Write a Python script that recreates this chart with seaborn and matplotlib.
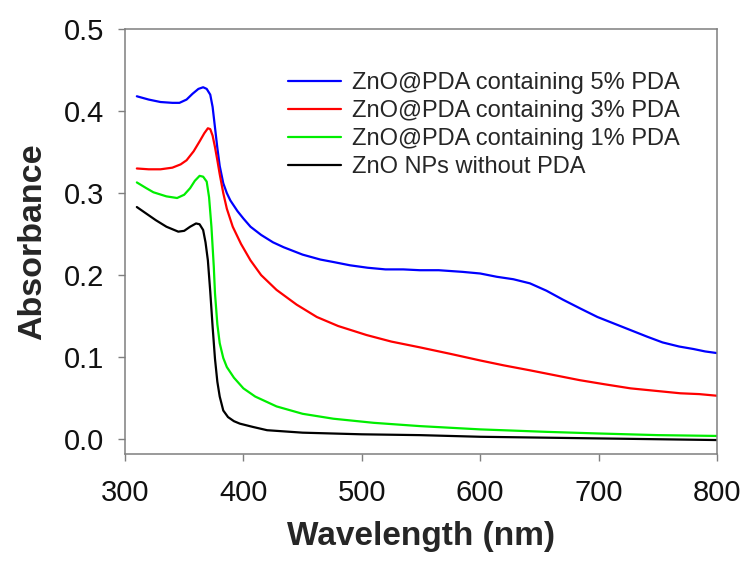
import numpy as np
import pandas as pd
import matplotlib
matplotlib.use("Agg")
import matplotlib.pyplot as plt
import seaborn as sns

# ---- data ----
wl_5 = [310, 320, 330, 340, 346, 352, 357, 362, 366, 369, 372, 374, 376, 378, 380,
        383, 386, 389, 395, 400, 406, 415, 425, 434, 450, 465, 476, 490, 505, 520,
        535, 549, 565, 585, 600, 614, 628, 642, 656, 670, 685, 699, 713, 727, 741,
        754, 768, 780, 790, 800]
abs_5 = [0.418, 0.414, 0.411, 0.410, 0.410, 0.414, 0.421, 0.427, 0.429, 0.427, 0.420,
         0.405, 0.380, 0.355, 0.333, 0.312, 0.300, 0.291, 0.278, 0.269, 0.259, 0.249,
         0.240, 0.234, 0.225, 0.219, 0.216, 0.212, 0.209, 0.207, 0.207, 0.206, 0.206,
         0.204, 0.202, 0.198, 0.195, 0.190, 0.181, 0.170, 0.159, 0.149, 0.141, 0.133,
         0.125, 0.118, 0.113, 0.110, 0.107, 0.105]

wl_3 = [310, 320, 330, 340, 347, 352, 358, 363, 367, 370, 372, 374, 376, 378, 380,
        383, 386, 391, 398, 406, 415, 428, 445, 462, 480, 504, 525, 549, 575, 600,
        620, 642, 663, 684, 705, 727, 748, 769, 785, 800]
abs_3 = [0.330, 0.329, 0.329, 0.331, 0.335, 0.340, 0.351, 0.363, 0.373, 0.379, 0.378,
         0.370, 0.356, 0.340, 0.323, 0.300, 0.281, 0.259, 0.238, 0.218, 0.200, 0.182,
         0.164, 0.149, 0.138, 0.127, 0.119, 0.112, 0.104, 0.096, 0.090, 0.084, 0.078,
         0.072, 0.067, 0.062, 0.059, 0.056, 0.055, 0.053]

wl_1 = [310, 318, 324, 335, 344, 350, 355, 359, 363, 366, 369, 371, 373, 375, 376,
        378, 380, 383, 386, 392, 400, 410, 428, 450, 476, 510, 549, 600, 656, 700,
        750, 800]
abs_1 = [0.313, 0.306, 0.301, 0.296, 0.294, 0.298, 0.306, 0.315, 0.321, 0.320, 0.314,
         0.295, 0.259, 0.210, 0.178, 0.140, 0.117, 0.099, 0.088, 0.075, 0.062, 0.052,
         0.040, 0.031, 0.025, 0.020, 0.016, 0.012, 0.009, 0.007, 0.005, 0.004]

wl_0 = [310, 318, 326, 335, 345, 350, 355, 360, 363, 366, 368, 370, 372, 374, 376,
        378, 380, 383, 387, 392, 397, 408, 420, 450, 500, 549, 600, 650, 700, 750, 800]
abs_0 = [0.283, 0.275, 0.267, 0.259, 0.253, 0.254, 0.259, 0.263, 0.262, 0.255, 0.240,
         0.218, 0.180, 0.137, 0.098, 0.070, 0.052, 0.035, 0.027, 0.022, 0.019, 0.015,
         0.011, 0.008, 0.006, 0.005, 0.003, 0.002, 0.001, 0.000, -0.001]

labels = ["ZnO@PDA containing 5% PDA", "ZnO@PDA containing 3% PDA",
          "ZnO@PDA containing 1% PDA", "ZnO NPs without PDA"]
colors = ["#0000ff", "#ff0000", "#00ee00", "#000000"]
x_ticks = [300, 400, 500, 600, 700, 800]
y_ticks = [0.0, 0.1, 0.2, 0.3, 0.4, 0.5]

frames = []
for lab, wl, ab in zip(labels, [wl_5, wl_3, wl_1, wl_0], [abs_5, abs_3, abs_1, abs_0]):
    frames.append(pd.DataFrame({"Wavelength": wl, "Absorbance": ab, "Sample": lab}))
df = pd.concat(frames, ignore_index=True)

sns.set_style("ticks")
plt.rcParams["font.family"] = ["Liberation Sans", "DejaVu Sans"]

fig = plt.figure(figsize=(7.46, 5.63), dpi=100)
ax = fig.add_axes([125 / 746, 1 - 454 / 563, (717 - 125) / 746, (454 - 29) / 563])

sns.lineplot(data=df, x="Wavelength", y="Absorbance", hue="Sample",
             hue_order=labels, palette=dict(zip(labels, colors)),
             linewidth=1.6, ax=ax, sort=True, estimator=None)

ax.set_xlim(300, 800)
ax.set_ylim(-0.018, 0.5)
ax.set_xticks(x_ticks)
ax.set_yticks(y_ticks)
ax.set_xticklabels([str(v) for v in x_ticks])
ax.set_yticklabels([f"{v:.1f}" for v in y_ticks])

for s in ax.spines.values():
    s.set_color("#7f7f7f")
    s.set_linewidth(1.1)
ax.tick_params(axis="both", direction="out", length=5, width=1.0, color="#7f7f7f",
               labelsize=21, labelcolor="#111111")
ax.tick_params(axis="y", pad=10)
ax.tick_params(axis="x", pad=13)

ax.set_xlabel("Wavelength (nm)", fontsize=24, fontweight="bold", labelpad=10)
ax.set_ylabel("Absorbance", fontsize=24.5, fontweight="bold", labelpad=11)

leg = ax.legend(loc="upper left", bbox_to_anchor=(0.2755, 0.898), frameon=False,
                fontsize=17, handlelength=2.25, handletextpad=0.45,
                labelspacing=0.25, borderpad=0, borderaxespad=0)
for line in leg.get_lines():
    line.set_linewidth(1.6)

fig.savefig("out.png", dpi=100)
